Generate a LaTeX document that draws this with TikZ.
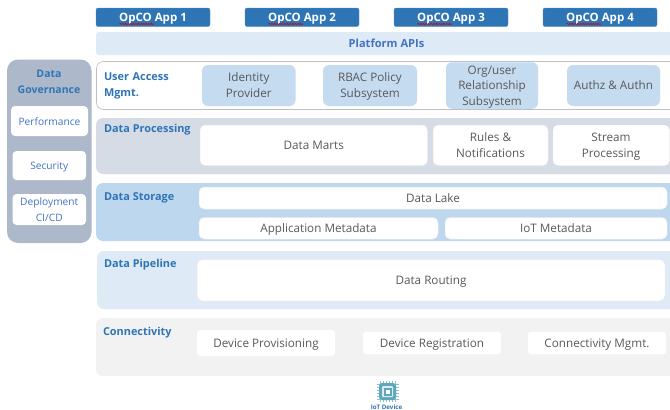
\documentclass[tikz,border=0pt]{standalone}
\usepackage{fontspec}
\setmainfont{Open Sans}
\usetikzlibrary{decorations.pathmorphing}
\renewcommand{\strut}{\leavevmode\vrule height .77\baselineskip depth .23\baselineskip width 0pt\relax}
\definecolor{appblue}{HTML}{2E75B6}
\definecolor{headblue}{HTML}{2E75B6}
\definecolor{softblue}{HTML}{4472C4}
\definecolor{grytxt}{HTML}{595959}
\definecolor{paleblue}{HTML}{DEEAF6}
\definecolor{midblue}{HTML}{BDD7EE}
\definecolor{slatebg}{HTML}{D6DCE5}
\definecolor{lightbg}{HTML}{F2F2F2}
\definecolor{govbg}{HTML}{ADB9CA}
\definecolor{chip}{HTML}{5FA8BC}
\tikzset{
  x=1pt,y=-1pt,
  every node/.style={inner sep=0pt,outer sep=0pt,align=center},
  txt/.style={font=\fontsize{11.7}{16}\selectfont,text=grytxt},
  head/.style={font=\fontsize{10.9}{16.5}\selectfont\bfseries,text=headblue,align=left},
  appbox/.style={fill=appblue,draw=appblue!80!white,line width=.4pt,rounded corners=2pt,text=white,font=\fontsize{11.5}{14}\selectfont\bfseries},
  whitebox/.style={fill=white,rounded corners=5pt,draw=black!8,line width=.5pt,txt},
  bluebox/.style={fill=midblue!90!white,rounded corners=6pt,txt},
  plainbox/.style={fill=white,rounded corners=3pt,txt},
  govbox/.style={fill=white,rounded corners=4pt,font=\fontsize{10.2}{15.5}\selectfont,text=softblue},
  squig/.style={draw=red!85!black,line width=.65pt,decorate,decoration={snake,amplitude=.6pt,segment length=2.6pt}}
}
\begin{document}
\begin{tikzpicture}
\useasboundingbox (0,0) rectangle (670,410);
\fill[white] (0,0) rectangle (670,410);
% top apps
\node[appbox,minimum width=114pt,minimum height=18.5pt] (a1) at (153,17.25) {\strut OpCO App 1};
\node[appbox,minimum width=114pt,minimum height=18.5pt] (a2) at (302,17.25) {\strut OpCO App 2};
\node[appbox,minimum width=114pt,minimum height=18.5pt] (a3) at (451,17.25) {\strut OpCO App 3};
\node[appbox,minimum width=114pt,minimum height=18.5pt] (a4) at (600,17.25) {\strut OpCO App 4};
\draw[squig] (119.5,24) -- (154,24);
\draw[squig] (268.5,24) -- (303,24);
\draw[squig] (417.5,24) -- (452,24);
\draw[squig] (566.5,24) -- (601,24);
% platform
\fill[paleblue,rounded corners=3pt] (96,32) rectangle (676,55);
\node[font=\fontsize{11.1}{14}\selectfont\bfseries,text=softblue] (plat) at (386.5,43.5) {\strut Platform APIs};
% user access
\draw[fill=white,draw=black!25,line width=.6pt,rounded corners=7pt] (96.5,61.5) rectangle (680,109.5);
\node[head,anchor=west,text width=90pt] (ua) at (104,84) {\strut User Access\\\strut Mgmt.};
\node[bluebox,minimum width=93.5pt,minimum height=41pt] (id) at (248.75,85.5) {\strut Identity\\\strut Provider};
\node[bluebox,minimum width=94pt,minimum height=41pt] (rb) at (370,85.5) {\strut RBAC Policy\\\strut Subsystem};
\node[bluebox,minimum width=92pt,minimum height=41pt,font=\fontsize{11.7}{15.5}\selectfont] (og) at (492,85.5) {\strut Org/user\\\strut Relationship\\\strut Subsystem};
\node[bluebox,minimum width=93pt,minimum height=41pt] (az) at (613.5,85.5) {\strut Authz \& Authn};
% data processing
\fill[slatebg,rounded corners=7pt] (96,118) rectangle (684,174);
\node[head,anchor=west] (dp) at (104,128) {\strut Data Processing};
\node[whitebox,minimum width=227.5pt,minimum height=40.5pt] (dm) at (313.75,145.25) {\strut Data Marts};
\node[whitebox,minimum width=115pt,minimum height=40.5pt] (rn) at (490.5,145.25) {\strut Rules \&\\\strut Notifications};
\fill[white,rounded corners=5pt] (553,125) rectangle (669.5,165.5);
\node[txt] (sp) at (611,145.25) {\strut Stream\\\strut Processing};
% data storage
\fill[midblue,rounded corners=7pt] (96,183) rectangle (684,241);
\node[head,anchor=west] (ds) at (104,196) {\strut Data Storage};
\node[whitebox,minimum width=468pt,minimum height=22pt] (dl) at (433,198) {\strut Data Lake};
\node[whitebox,minimum width=239pt,minimum height=21.5pt] (am) at (318.5,228.25) {\strut Application Metadata};
\node[whitebox,minimum width=222pt,minimum height=21.5pt] (im) at (556,228.25) {\strut IoT Metadata};
% data pipeline
\fill[paleblue,rounded corners=7pt] (97,251) rectangle (684,309);
\node[head,anchor=west] (pl) at (104,263) {\strut Data Pipeline};
\node[whitebox,minimum width=468pt,minimum height=41.5pt,rounded corners=6pt] (dr) at (431,280.25) {\strut Data Routing};
% connectivity
\fill[lightbg,rounded corners=7pt] (96,318) rectangle (684,376);
\node[head,anchor=west] (cn) at (103,331) {\strut Connectivity};
\node[plainbox,minimum width=138pt,minimum height=26pt] (dv) at (266,343) {\strut Device Provisioning};
\node[plainbox,minimum width=138pt,minimum height=22.5pt] (dg) at (432,343) {\strut Device Registration};
\node[plainbox,minimum width=138pt,minimum height=22.5pt] (cm) at (597,343) {\strut Connectivity Mgmt.};
% governance
\fill[govbg,rounded corners=11pt] (7,59.5) rectangle (91.5,243);
\node[head,align=center,font=\fontsize{10.5}{15.5}\selectfont\bfseries] (gv) at (49,81.5) {\strut Data\\\strut Governance};
\node[govbox,minimum width=77pt,minimum height=30pt] (pf) at (49.5,121) {\strut Performance};
\node[govbox,minimum width=73.5pt,minimum height=29pt] (sc) at (49.25,165.5) {\strut Security};
\node[govbox,minimum width=73.5pt,minimum height=29pt] (de) at (49.25,209.5) {\strut Deployment\\\strut CI/CD};
% icon
\begin{scope}[line width=.6pt,draw=chip!70!white]
\foreach \d in {-7.5,-4.5,-1.5,1.5,4.5,7.5}{
 \draw (387.5+\d,381) -- (387.5+\d,402);
 \draw (376.5,391.5+\d) -- (398.5,391.5+\d);
}
\end{scope}
\fill[chip,rounded corners=3pt] (379,383) rectangle (396,400);
\fill[paleblue,rounded corners=1pt] (382,386) rectangle (393,397);
\fill[chip] (383.5,387.5) rectangle (391.5,395.5);
\fill[white] (385.5,389.5) rectangle (389.5,393.5);
\node[font=\fontsize{6.2}{7}\selectfont\bfseries,text=appblue] (iot) at (386.5,407) {IoT Device};
\end{tikzpicture}
\end{document}
